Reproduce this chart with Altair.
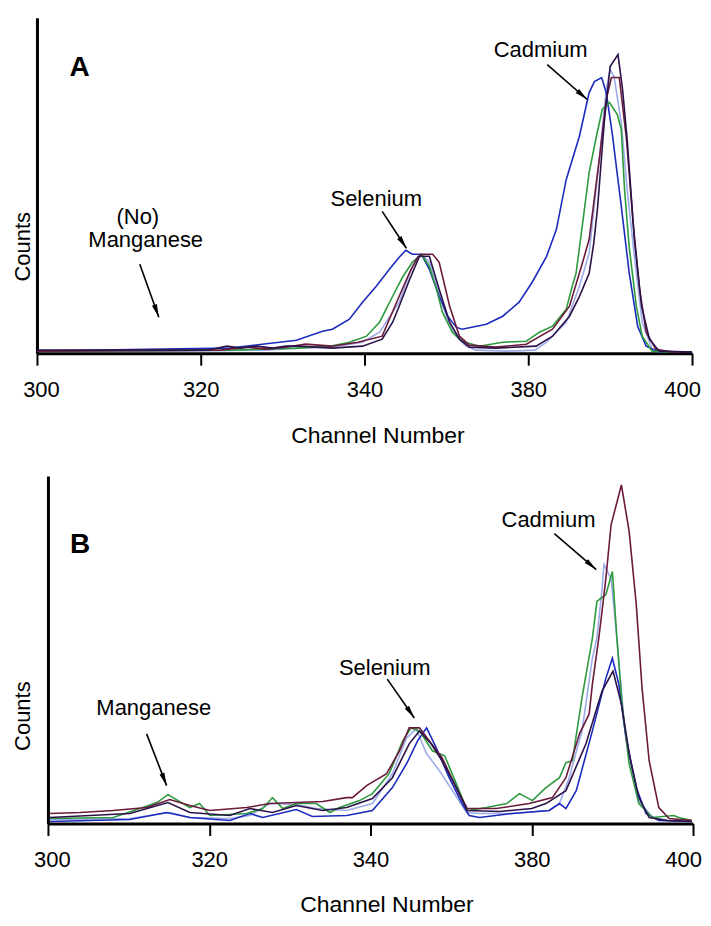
import math
import altair as alt
import pandas as pd

FONT = "Liberation Sans, Arial, Helvetica, sans-serif"
SERIES = ["lightblue", "blue", "green", "maroon", "purple"]
COLORS = ["#9eacea", "#1c2bbd", "#2e9a3e", "#6b1a3c", "#2b1248"]

TICK_VALUES = [300, 325, 350, 375, 400]
TICK_LABELS = ["300", "320", "340", "380", "400"]

# ---------------- Panel A ----------------
A_blue_ch = [300, 319.2, 329.4, 334.4, 339.6, 343.6, 345.1, 347.7, 349.7, 351.8, 353.8, 355.3, 356.3, 357.3, 358.7, 359.9, 361.4, 362.7, 364.0, 364.9, 368.6, 371.1, 373.6, 375.6, 377.8, 379.3, 380.8, 382.8, 384.3, 385.1, 386.2, 386.9, 387.8, 389.2, 390.4, 391.7, 393.0, 395.0, 400]
A_blue_ct = [6, 12, 15, 27, 39, 66, 72, 102, 153, 201, 252, 288, 309, 297, 297, 252, 171, 111, 78, 72, 87, 111, 153, 213, 291, 372, 522, 651, 783, 816, 828, 783, 663, 441, 243, 81, 21, 3, 3]

A_green_ch = [300, 330, 339.6, 344.7, 347.7, 350.3, 352.3, 354.3, 355.8, 357.3, 358.7, 359.9, 361.0, 361.9, 363.4, 364.9, 367.5, 371.1, 374.7, 376.7, 378.7, 380.8, 381.7, 382.3, 383.3, 384.3, 385.4, 386.3, 387.4, 388.6, 389.2, 389.7, 390.4, 391.5, 392.4, 393.9, 397, 400]
A_green_ct = [6, 9, 15, 21, 33, 51, 93, 171, 228, 273, 297, 261, 192, 123, 63, 36, 21, 33, 36, 63, 81, 132, 200, 240, 390, 543, 651, 732, 753, 717, 672, 492, 321, 141, 51, 6, 3, 3]

A_purple_ch = [300, 326, 329, 331, 333.5, 336, 338, 340.1, 345.1, 349.7, 352.7, 354.3, 355.3, 356.9, 358.4, 359.9, 361.4, 363.0, 364.5, 366.0, 370, 376.2, 378.7, 381.3, 382.8, 384.3, 385.0, 385.6, 386.6, 387.5, 388.7, 389.4, 390.1, 391.2, 392.3, 393.5, 395.0, 400]
A_purple_ct = [9, 9, 21, 15, 21, 15, 21, 21, 15, 21, 42, 93, 141, 222, 291, 291, 192, 93, 42, 18, 15, 21, 51, 111, 170, 240, 330, 441, 693, 861, 897, 792, 642, 342, 141, 42, 6, 3]

A_maroon_ch = [300, 328, 332, 335, 338, 341, 345, 349, 352.7, 355.3, 356.9, 358.1, 358.7, 360.4, 361.4, 363.0, 364.5, 366, 370, 374.7, 378.7, 381.3, 383.3, 384.3, 385.9, 386.9, 387.7, 388.9, 390.0, 391.0, 392.0, 393.0, 394.5, 397, 400]
A_maroon_ct = [6, 9, 18, 12, 18, 27, 21, 33, 51, 171, 243, 288, 297, 297, 273, 141, 51, 24, 18, 27, 72, 141, 273, 342, 591, 762, 828, 828, 642, 393, 192, 63, 12, 3, 3]

A_light_ch = [300, 320, 335, 340, 345, 349.7, 352.3, 355.3, 357.3, 358.7, 359.9, 360.4, 362.5, 364.0, 365.5, 367, 372, 376, 377.8, 380.8, 382.8, 384.3, 385.9, 386.9, 387.5, 388.1, 389.2, 390.1, 391.2, 392.4, 393.9, 397, 400]
A_light_ct = [6, 6, 9, 15, 18, 33, 63, 153, 261, 297, 273, 243, 111, 51, 21, 9, 6, 9, 33, 93, 200, 300, 591, 792, 852, 831, 693, 492, 291, 93, 12, 3, 3]

A_labels = ["(No)", "Manganese", "Selenium", "Cadmium"]
A_label_ch = [315.4, 316.6, 351.8, 376.9]
A_label_ct = [408, 339, 462, 912]
A_arrow_from_ch = [315.7, 352.7, 377.9]
A_arrow_from_ct = [267, 426, 867]
A_arrow_to_ch = [318.6, 356.4, 384.0]
A_arrow_to_ct = [108, 315, 762]

# ---------------- Panel B ----------------
B_maroon_ch = [300.3, 305.0, 310.1, 315.3, 318.9, 322.0, 325.1, 330.8, 334.4, 338.5, 342.6, 346.3, 347.2, 349.4, 352.5, 354.5, 356.0, 357.6, 359.1, 361.1, 363.3, 365.0, 369.5, 374.6, 378.2, 380.3, 382.4, 383.9, 384.4, 385.4, 385.9, 386.5, 387.3, 388.9, 390.1, 391.2, 392.1, 393.2, 394.7, 396.3, 399.8]
B_maroon_ct = [30, 33, 39, 48, 72, 54, 39, 48, 60, 63, 66, 78, 78, 114, 150, 219, 288, 288, 249, 198, 108, 45, 45, 60, 78, 138, 270, 330, 420, 560, 640, 740, 900, 1020, 880, 660, 408, 189, 48, 15, 9]

B_light_ch = [300.3, 312.7, 317.8, 318.9, 322.0, 328.2, 331.3, 334.4, 338.5, 341.6, 346.3, 350.3, 353.4, 355.6, 357.1, 358.7, 360.7, 362.7, 364.9, 366.9, 372.0, 377.7, 379.3, 380.8, 382.8, 384.4, 385.1, 385.9, 386.2, 387.3, 388.2, 389.3, 390.6, 391.6, 393.7, 396.3, 399.8]
B_light_ct = [12, 15, 30, 33, 18, 15, 24, 60, 57, 45, 39, 60, 150, 258, 285, 210, 159, 99, 33, 30, 30, 39, 60, 138, 280, 498, 558, 708, 780, 738, 558, 309, 159, 69, 18, 9, 6]

B_green_ch = [300.3, 310.1, 314.7, 316.9, 318.6, 322.0, 323.5, 325.1, 330.8, 333.3, 334.8, 336.4, 338.5, 341.6, 343.7, 345.2, 348.3, 350.3, 352.9, 355.0, 356.3, 357.6, 359.6, 361.5, 363.3, 365.0, 368.0, 371.1, 373.1, 375.1, 377.2, 379.3, 380.3, 381.3, 382.8, 384.4, 385.1, 386.5, 387.5, 388.2, 389.0, 390.1, 391.6, 393.7, 397.0, 397.8, 399.8]
B_green_ct = [15, 18, 48, 63, 87, 48, 60, 24, 30, 45, 78, 45, 60, 60, 33, 48, 69, 90, 150, 249, 288, 279, 219, 204, 120, 39, 48, 60, 90, 69, 108, 138, 183, 189, 380, 558, 669, 690, 759, 558, 360, 180, 60, 18, 24, 18, 9]

B_blue_ch = [300.3, 312.7, 318.4, 322.0, 328.2, 331.3, 333.3, 338.5, 341.0, 346.3, 350.3, 353.4, 355.6, 357.3, 358.7, 360.2, 362.2, 364.2, 365.3, 366.9, 372.0, 377.7, 379.3, 380.3, 381.9, 384.4, 386.5, 387.5, 388.5, 389.6, 391.2, 392.7, 394.7, 399.8]
B_blue_ct = [6, 12, 33, 18, 9, 30, 18, 42, 21, 24, 39, 108, 180, 249, 288, 228, 138, 60, 24, 18, 30, 39, 60, 45, 99, 279, 438, 498, 420, 258, 108, 30, 9, 6]

B_purple_ch = [300.3, 312.7, 318.6, 322.0, 328.2, 331.3, 334.8, 338.5, 342.6, 346.3, 350.3, 353.4, 356.0, 357.6, 359.4, 361.1, 363.3, 365.0, 370, 375, 377.2, 380.3, 383.4, 385.9, 387.6, 388.9, 390.1, 391.6, 393.2, 396, 399.8]
B_purple_ct = [18, 30, 63, 33, 24, 45, 33, 54, 39, 48, 75, 138, 240, 279, 240, 189, 108, 39, 36, 45, 60, 99, 240, 399, 459, 360, 210, 78, 18, 9, 6]

B_labels = ["Manganese", "Selenium", "Cadmium"]
B_label_ch = [316.4, 352.2, 377.6]
B_label_ct = [348, 468, 915]
B_arrow_from_ch = [315.3, 352.6, 378.5]
B_arrow_from_ct = [270, 435, 873]
B_arrow_to_ch = [318.4, 356.8, 385.0]
B_arrow_to_ct = [114, 318, 765]

ARROW_HEAD = "M0,0 L0.4,2 L-0.4,2 Z"

label_expr = "".join(
    f"datum.value == {v} ? '{l}' : " for v, l in zip(TICK_VALUES, TICK_LABELS)
) + "datum.label"


def series_frame(d):
    rows = []
    for name in SERIES:
        ch, ct = d[name]
        for i, (c, v) in enumerate(zip(ch, ct)):
            rows.append({"series": name, "channel": c, "counts": v, "i": i})
    return pd.DataFrame(rows)


def panel(d, ymax, w, h, x_off, labels, lab_ch, lab_ct, letter, letter_pos,
          a_fc, a_fv, a_tc, a_tv, counts_x, counts_y, title_x, title_y):
    xs = alt.Scale(domain=[300, 400], range=[x_off, w], nice=False, zero=False)
    ys = alt.Scale(domain=[0, ymax], nice=False, zero=True)
    xaxis = alt.Axis(
        values=TICK_VALUES, labelExpr=label_expr, grid=False,
        domainColor="black", domainWidth=3, tickColor="black", tickWidth=2,
        tickSize=12, labelFont=FONT, labelFontSize=22, labelColor="black",
        labelPadding=14, labelFlush=False,
        labelOffset={"condition": [{"test": "datum.value == 300", "value": 4},
                                   {"test": "datum.value == 400", "value": -10}],
                     "value": 0},
        title="Channel Number", titleFont=FONT, titleFontSize=23,
        titleFontWeight="normal", titleColor="black", titleX=title_x, titleY=title_y,
        titleBaseline="alphabetic", titleAlign="center",
    )
    yaxis = alt.Axis(
        labels=False, ticks=False, grid=False, domainColor="black", domainWidth=3,
        offset=-x_off,
        title="Counts", titleFont=FONT, titleFontSize=22, titleFontWeight="normal",
        titleColor="black", titleAngle=270, titleX=counts_x, titleY=counts_y,
        titleBaseline="middle", titleAlign="center",
    )
    X = lambda f: alt.X(f, scale=xs, axis=xaxis)
    Y = lambda f: alt.Y(f, scale=ys, axis=yaxis)

    df = series_frame(d)
    lines = alt.Chart(df).mark_line(strokeWidth=1.6).encode(
        x=X("channel:Q"), y=Y("counts:Q"),
        color=alt.Color("series:N", scale=alt.Scale(domain=SERIES, range=COLORS), legend=None),
        order="i:Q",
    )
    tdf = pd.DataFrame({"label": labels, "channel": lab_ch, "counts": lab_ct})
    txt = alt.Chart(tdf).mark_text(font=FONT, fontSize=22, color="black",
                                   baseline="middle", align="center").encode(
        x=X("channel:Q"), y=Y("counts:Q"), text="label:N",
    )
    ldf = pd.DataFrame({"label": [letter], "channel": [letter_pos[0]], "counts": [letter_pos[1]]})
    let = alt.Chart(ldf).mark_text(font=FONT, fontSize=28, fontWeight="bold", color="black",
                                   baseline="middle", align="center").encode(
        x=X("channel:Q"), y=Y("counts:Q"), text="label:N",
    )
    angles = []
    for fc, fv, tc, tv in zip(a_fc, a_fv, a_tc, a_tv):
        dx = (tc - fc) / 100.0 * (w - x_off)
        dy = -(tv - fv) / ymax * h
        angles.append(math.degrees(math.atan2(dx, -dy)) % 360)
    adf = pd.DataFrame({"channel": a_fc, "counts": a_fv, "c2": a_tc, "v2": a_tv, "angle": angles})
    shafts = alt.Chart(adf).mark_rule(color="black", strokeWidth=1.6).encode(
        x=X("channel:Q"), y=Y("counts:Q"), x2="c2:Q", y2="v2:Q",
    )
    heads = alt.Chart(adf).mark_point(shape=ARROW_HEAD, filled=True, size=169,
                                      color="black", opacity=1, strokeWidth=0).encode(
        x=X("c2:Q"), y=Y("v2:Q"),
        angle=alt.Angle("angle:Q", scale=None),
    )
    return alt.layer(lines, shafts, heads, txt, let).properties(width=w, height=h)


A = panel(
    {"blue": (A_blue_ch, A_blue_ct), "green": (A_green_ch, A_green_ct),
     "purple": (A_purple_ch, A_purple_ct), "maroon": (A_maroon_ch, A_maroon_ct),
     "lightblue": (A_light_ch, A_light_ct)},
    1008, 656, 336, 0, A_labels, A_label_ch, A_label_ct, "A", (306.5, 858),
    A_arrow_from_ch, A_arrow_from_ct, A_arrow_to_ch, A_arrow_to_ct, -14.5, 229, 341, 89,
)
B = panel(
    {"blue": (B_blue_ch, B_blue_ct), "green": (B_green_ch, B_green_ct),
     "purple": (B_purple_ch, B_purple_ct), "maroon": (B_maroon_ch, B_maroon_ct),
     "lightblue": (B_light_ch, B_light_ct)},
    1047, 657, 348, 11, B_labels, B_label_ch, B_label_ct, "B", (305.0, 840),
    B_arrow_from_ch, B_arrow_from_ct, B_arrow_to_ch, B_arrow_to_ct, -25, 240, 350, 88,
)

chart = alt.concat(A, B, columns=1, spacing=29).properties(
    padding={"left": 3, "top": 9, "right": 1, "bottom": 0},
    background="white",
).configure_view(stroke=None)

chart.save("out.html", embed_options={"renderer": "svg", "actions": False})
